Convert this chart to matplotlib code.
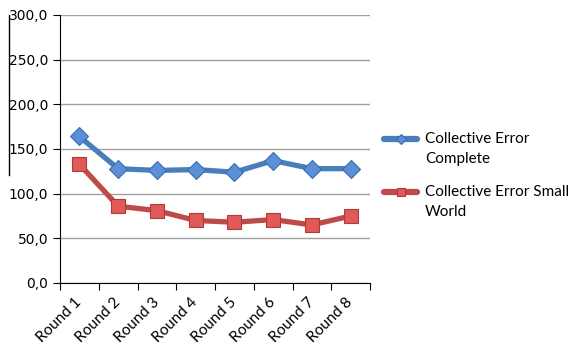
import matplotlib
matplotlib.use("Agg")
import matplotlib.pyplot as plt
from matplotlib.lines import Line2D

rounds = ["Round 1", "Round 2", "Round 3", "Round 4", "Round 5", "Round 6", "Round 7", "Round 8"]
complete = [164, 128, 126, 127, 124, 137, 128, 128]
small_world = [133, 86, 81, 70, 68, 71, 65, 75]
yticks = [0, 50, 100, 150, 200, 250, 300]
ytick_labels = ["0,0", "50,0", "100,0", "150,0", "200,0", "250,0", "300,0"]
series_labels = [["Collective Error", "Complete"], ["Collective Error Small", "World"]]

W, H = 573, 352
fig = plt.figure(figsize=(W/100, H/100), dpi=100)
ax = fig.add_axes([60/W, 1 - 283/H, 310/W, 268/H])

blue = dict(color="#4a7ebb", lw=3.8, marker="D", mfc="#5b8fd6", mec="#3a6db0", mew=0.8,
            solid_joinstyle="round", solid_capstyle="round")
red = dict(color="#be4b48", lw=3.8, marker="s", mfc="#e05a57", mec="#b03a38", mew=0.8,
           solid_joinstyle="round", solid_capstyle="round")

x = list(range(len(rounds)))
ax.plot(x, complete, ms=9, zorder=3, **blue)
ax.plot(x, small_world, ms=10, zorder=3, **red)

ax.set_xlim(-0.5, 7.5)
ax.set_ylim(0, 300)
ax.set_yticks(yticks)
ax.set_yticklabels(ytick_labels, fontsize=10, family="DejaVu Sans")
ax.yaxis.grid(True, color="#a0a0a0", lw=1)
ax.set_axisbelow(True)
ax.set_xticks([i + 0.5 for i in range(-1, len(rounds))], minor=False)
ax.set_xticklabels([])
ax.set_xticks(x, minor=True)
ax.set_xticklabels(rounds, minor=True, rotation=45, ha="right", va="center",
                   rotation_mode="anchor", fontsize=11, family="Lato")
ax.tick_params(axis="x", which="minor", length=0, pad=12)
ax.tick_params(axis="x", which="major", length=5, direction="out")
ax.tick_params(axis="y", length=5, direction="out")
for s in ["top", "right"]:
    ax.spines[s].set_visible(False)
ax.spines["left"].set_color("black")
ax.spines["bottom"].set_color("black")

# legend (manual, handle aligned with first text line)
def fx(px):
    return px / W

def fy(py):
    return 1 - py / H

entries = [(blue, 5, 138.5, 142.7), (red, 6, 191.7, 195.7)]
for (style, ms, hy, base), lines in zip(entries, series_labels):
    st = dict(style)
    st["lw"] = 4.5
    fig.add_artist(Line2D([fx(384), fx(400.5), fx(417)], [fy(hy)] * 3, markevery=[1], ms=ms,
                          **st))
    for i, t in enumerate(lines):
        fig.text(fx(425), fy(base + 20.5 * i), t, family="Lato", fontsize=11,
                 va="baseline", ha="left")

fig.add_artist(Line2D([9/W, 9/W], [1 - 15/H, 1 - 175/H], color="black", lw=1))

fig.savefig("out.png", dpi=100)
